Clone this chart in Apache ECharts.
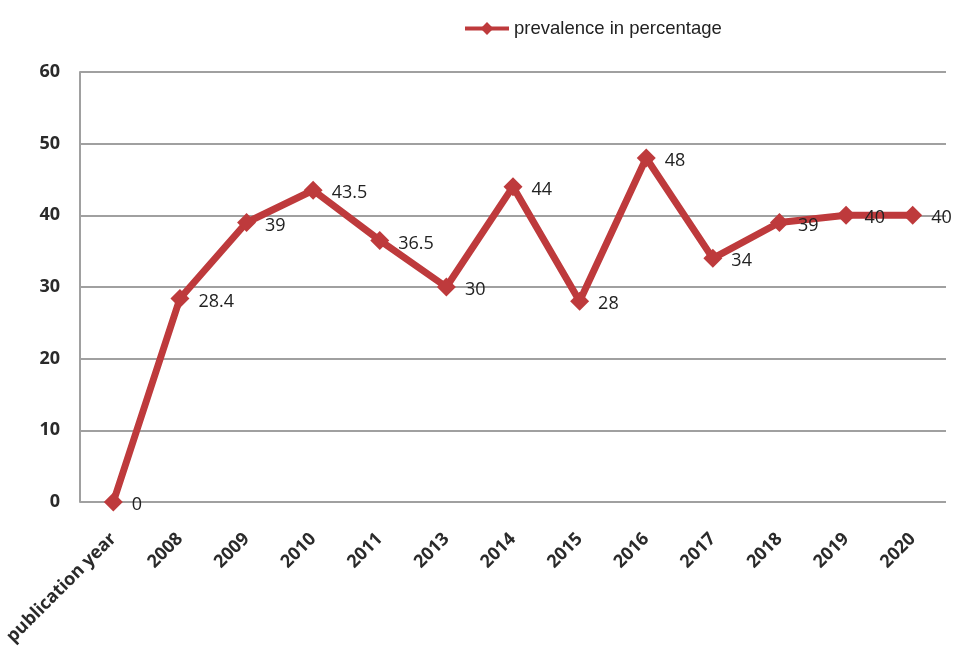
<!DOCTYPE html>
<html><head><meta charset="utf-8">
<script src="https://cdn.jsdelivr.net/npm/echarts@6/dist/echarts.min.js"></script>
<style>html,body{margin:0;padding:0;background:#fff}#c{width:959px;height:656px}</style>
</head><body><div id="c"></div>
<script>
const categories = ['publication year','2008','2009','2010','2011','2013','2014','2015','2016','2017','2018','2019','2020'];
const prevalence = [0, 28.4, 39, 43.5, 36.5, 30, 44, 28, 48, 34, 39, 40, 40];
const seriesName = 'prevalence in percentage';

const chart = echarts.init(document.getElementById('c'), null, {renderer:'canvas'});
chart.setOption({
  animation:false,
  backgroundColor:'#fff',
  legend:{
    top:14, left:458, itemWidth:44, itemHeight:16, itemGap:11,
    lineStyle:{width:4},
    textStyle:{fontFamily:'Liberation Sans, Arial', fontSize:18.5, color:'#222'},
    data:[seriesName]
  },
  grid:{left:80, right:13, top:72, bottom:154},
  xAxis:{
    type:'category', data:categories, boundaryGap:true,
    axisLine:{show:false}, axisTick:{show:false},
    axisLabel:{rotate:45, fontFamily:'Open Sans, DejaVu Sans', fontWeight:'bold', fontSize:18, color:'#2a2a2a', margin:34, interval:0}
  },
  yAxis:{
    type:'value', min:0, max:60, interval:10,
    axisLine:{show:true, lineStyle:{color:'#a0a0a0', width:2}},
    axisTick:{show:false},
    splitLine:{lineStyle:{color:'#a0a0a0', width:2}},
    axisLabel:{fontFamily:'Open Sans, DejaVu Sans', fontWeight:'bold', fontSize:18, color:'#2a2a2a', margin:20}
  },
  series:[{
    name:seriesName, type:'line', data:prevalence,
    symbol:'diamond', symbolSize:19,
    lineStyle:{color:'#BE3A3C', width:7},
    itemStyle:{color:'#BE3A3C'},
    label:{show:true, position:'right', distance:9, offset:[0,3],
      fontFamily:'Open Sans, DejaVu Sans', fontSize:18, color:'#222'}
  }]
});
</script></body></html>
